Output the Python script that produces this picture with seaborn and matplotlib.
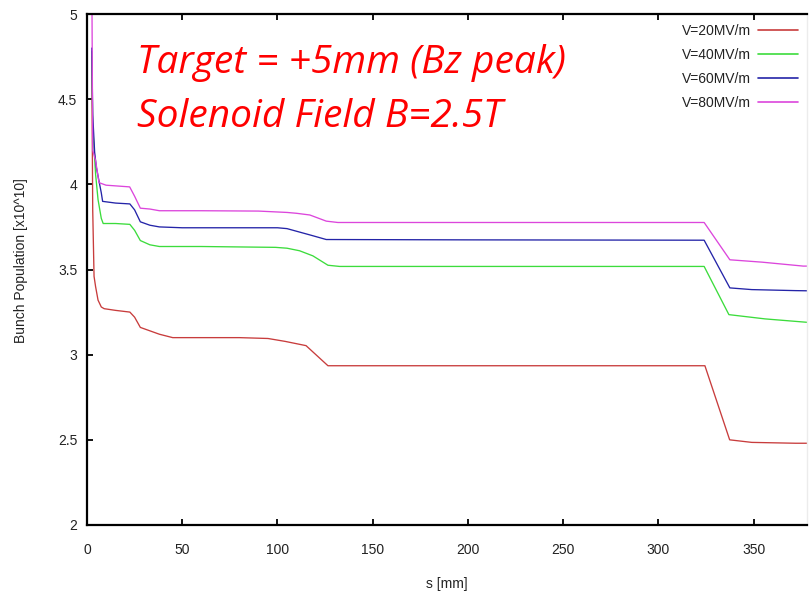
import matplotlib
matplotlib.use("Agg")
import matplotlib.pyplot as plt
import seaborn as sns
import pandas as pd

# Bunch population along the beamline for four accelerating gradients
series_names = ["V=20MV/m", "V=40MV/m", "V=60MV/m", "V=80MV/m"]

s_20 = [2.5, 3.0, 3.7, 4.5, 5.8, 7.5, 9, 15, 22.5, 25, 28, 33, 38, 45, 60, 80,
        95, 104, 115, 126.5, 200, 324.4, 337.4, 349, 372, 378]
n_20 = [4.75, 3.85, 3.46, 3.40, 3.32, 3.28, 3.27, 3.26, 3.25, 3.22, 3.16, 3.14,
        3.12, 3.10, 3.10, 3.10, 3.095, 3.078, 3.053, 2.935, 2.935, 2.935, 2.50,
        2.485, 2.48, 2.48]

s_40 = [2.5, 3.0, 4.5, 5.8, 7.5, 8.5, 15, 22.5, 25, 28, 33, 38, 60, 99, 105,
        111.6, 118.6, 126.5, 132.6, 200, 324, 337, 356, 378]
n_40 = [4.78, 4.34, 4.06, 3.91, 3.80, 3.77, 3.77, 3.765, 3.73, 3.67, 3.645,
        3.635, 3.635, 3.63, 3.625, 3.61, 3.58, 3.525, 3.518, 3.518, 3.518,
        3.235, 3.21, 3.19]

s_60 = [2.5, 3.0, 4.0, 4.9, 7.5, 8.2, 15, 22.5, 25, 28, 33, 38, 50, 100, 105,
        118, 125.6, 200, 324, 337.5, 349, 372, 378]
n_60 = [4.80, 4.41, 4.19, 4.10, 3.95, 3.90, 3.89, 3.885, 3.85, 3.78, 3.76,
        3.75, 3.745, 3.745, 3.74, 3.70, 3.676, 3.674, 3.672, 3.392, 3.382,
        3.376, 3.375]

s_80 = [2.5, 3.0, 4.5, 6.3, 10, 22.4, 25, 28, 33, 38, 60, 90, 105, 110, 117,
        125.6, 131.7, 200, 324, 337.5, 354.5, 376, 378]
n_80 = [5.30, 4.20, 4.14, 4.01, 3.995, 3.985, 3.93, 3.86, 3.855, 3.845, 3.845,
        3.843, 3.835, 3.83, 3.82, 3.784, 3.776, 3.776, 3.776, 3.557, 3.543,
        3.52, 3.52]

x_ticks = [0, 50, 100, 150, 200, 250, 300, 350]
y_ticks = [2, 2.5, 3, 3.5, 4, 4.5, 5]

frames = []
for name, s, n in zip(series_names, [s_20, s_40, s_60, s_80], [n_20, n_40, n_60, n_80]):
    frames.append(pd.DataFrame({"s": s, "N": n, "gradient": name}))
df = pd.concat(frames, ignore_index=True)

palette = {"V=20MV/m": "#c83c3c", "V=40MV/m": "#3cdc3c",
           "V=60MV/m": "#2424a8", "V=80MV/m": "#dc46dc"}

sns.set_style("white")
plt.rcParams["font.family"] = ["Liberation Sans", "DejaVu Sans"]

W, H = 809, 597
fig = plt.figure(figsize=(W / 100, H / 100), dpi=100)
left_px, right_px, top_px, bottom_px = 87, 807, 14, 525
ax = fig.add_axes([left_px / W, (H - bottom_px) / H,
                   (right_px - left_px) / W, (bottom_px - top_px) / H])

sns.lineplot(data=df, x="s", y="N", hue="gradient", palette=palette,
             estimator=None, sort=False, linewidth=0.95, ax=ax)

ax.set_xlim(0, 378)
ax.set_ylim(2, 5)
ax.set_xticks(x_ticks)
ax.set_yticks(y_ticks)
ax.set_xticklabels([str(v) for v in x_ticks])
ax.set_yticklabels([f"{v:g}" for v in y_ticks])

for side in ["left", "bottom", "top"]:
    ax.spines[side].set_color("black")
    ax.spines[side].set_linewidth(1.6)
ax.spines["right"].set_color("#ececec")
ax.spines["right"].set_linewidth(1.0)

ax.tick_params(axis="x", direction="in", length=4.5, width=1.3, top=True,
               bottom=True, labelsize=10, pad=13, colors="black",
               labelcolor="#222222")
ax.tick_params(axis="y", direction="in", length=4.5, width=1.3, left=True,
               right=False, labelsize=10, pad=7, colors="black",
               labelcolor="#222222")

ax.set_xlabel("s [mm]", fontsize=10, color="#222222")
ax.set_ylabel("Bunch Population [x10^10]", fontsize=10, color="#222222")
ax.xaxis.set_label_coords(0.5, (bottom_px - 584) / (bottom_px - top_px))
ax.yaxis.set_label_coords((21 - left_px) / (right_px - left_px),
                          (bottom_px - 261) / (bottom_px - top_px))
ax.xaxis.label.set_verticalalignment("center")
ax.yaxis.label.set_verticalalignment("center")

sns.move_legend(ax, "upper right", bbox_to_anchor=(798 / W, (H - 24) / H),
                bbox_transform=fig.transFigure, frameon=False,
                markerfirst=False, fontsize=10, handlelength=2.9,
                handletextpad=0.5, labelspacing=0.72, borderpad=0,
                borderaxespad=0, title=None)
leg = ax.get_legend()
for t in leg.get_texts():
    t.set_color("#222222")
for h in leg.legend_handles:
    h.set_linewidth(1.2)

# Annotation of the run settings
note_font = ["Open Sans", "DejaVu Sans"]
fig.text(137 / W, (H - 73) / H, "Target = +5mm (Bz peak)", color="#ff0000",
         fontsize=28, fontstyle="italic", family=note_font,
         va="baseline", ha="left")
fig.text(137 / W, (H - 127) / H, "Solenoid Field B=2.5T", color="#ff0000",
         fontsize=28, fontstyle="italic", family=note_font,
         va="baseline", ha="left")

fig.savefig("out.png", dpi=100)
